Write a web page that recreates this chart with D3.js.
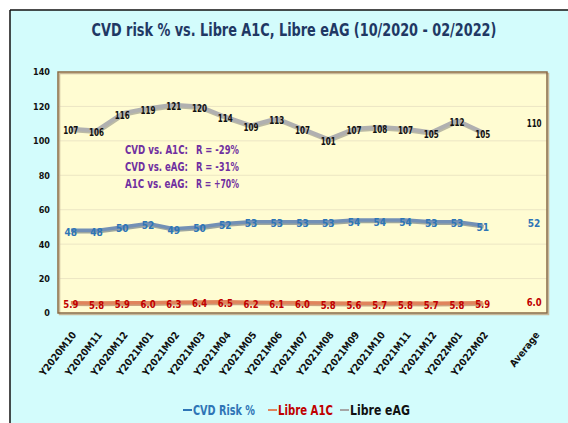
<!DOCTYPE html>
<html><head><meta charset="utf-8">
<script src="https://cdn.jsdelivr.net/npm/d3@7"></script>
<style>
html,body{margin:0;padding:0;background:#fff;}
svg{display:block;}
text{font-family:"Liberation Sans Narrow","DejaVu Sans Condensed","Roboto",sans-serif;font-weight:bold;}
</style></head><body>
<svg id="chart" width="568" height="423"></svg>
<script>
const categories = ["Y2020M10","Y2020M11","Y2020M12","Y2021M01","Y2021M02","Y2021M03","Y2021M04","Y2021M05","Y2021M06","Y2021M07","Y2021M08","Y2021M09","Y2021M10","Y2021M11","Y2021M12","Y2022M01","Y2022M02","","Average"];
const cvdRisk = [48,48,50,52,49,50,52,53,53,53,53,54,54,54,53,53,51];
const libreA1C = [5.9,5.8,5.9,6.0,6.3,6.4,6.5,6.2,6.1,6.0,5.8,5.6,5.7,5.8,5.7,5.8,5.9];
const libreEAG = [107,106,116,119,121,120,114,109,113,107,101,107,108,107,105,112,105];
const averages = {cvd:52, a1c:6.0, eag:110};
const yTicks = [0,20,40,60,80,100,120,140];
const correlations = [["CVD vs. A1C:","R = -29%"],["CVD vs. eAG:","R = -31%"],["A1C vs. eAG:","R = +70%"]];
const seriesNames = ["CVD Risk %","Libre A1C","Libre eAG"];

const svg = d3.select("#chart");

function fitWidth(sel, w){
  sel.each(function(){
    const n = this.getComputedTextLength();
    if(n > w){
      const ax = +this.getAttribute("x"), ay = +this.getAttribute("y");
      const k = w/n;
      d3.select(this).attr("transform",`translate(${ax},${ay}) scale(${k},1) translate(${-ax},${-ay})`);
    }
  });
}

// outer frame
svg.append("rect").attr("x",10).attr("y",10).attr("width",558).attr("height",413).attr("fill","#d3fcfc");
svg.append("line").attr("x1",10).attr("x2",568).attr("y1",10).attr("y2",10).attr("stroke","#111").attr("stroke-width",1.5);
svg.append("line").attr("x1",10).attr("x2",10).attr("y1",10).attr("y2",423).attr("stroke","#111").attr("stroke-width",1.5);

// title
svg.append("text").attr("x",294).attr("y",36).attr("text-anchor","middle")
  .attr("font-size",18).attr("fill","#1f3864")
  .text("CVD risk % vs. Libre A1C, Libre eAG  (10/2020 - 02/2022)")
  .call(fitWidth,405);

const L=58,R=547,T=72,B=313;
const x = d3.scaleBand().domain(categories).range([L,R]).padding(0);
const y = d3.scaleLinear().domain([0,140]).range([B,T]);
const cx = c => x(c)+x.bandwidth()/2;

svg.append("rect").attr("x",L).attr("y",T).attr("width",R-L).attr("height",B-T).attr("fill","#fffcd2");
svg.append("g").selectAll("line").data(yTicks.slice(1,-1)).join("line")
  .attr("x1",L).attr("x2",R).attr("y1",d=>y(d)).attr("y2",d=>y(d))
  .attr("stroke","#ece6c4").attr("stroke-width",1);
svg.append("rect").attr("x",L+1.5).attr("y",T+1.5).attr("width",R-L).attr("height",B-T).attr("fill","none").attr("stroke","#c8b898").attr("stroke-width",1.5);
svg.append("rect").attr("x",L).attr("y",T).attr("width",R-L).attr("height",B-T).attr("fill","none").attr("stroke","#8a6a44").attr("stroke-width",1.5);

// y axis
const yAxis = d3.axisLeft(y).tickValues(yTicks).tickSize(0).tickPadding(8);
const gy = svg.append("g").attr("transform",`translate(${L},0)`).call(yAxis);
gy.select(".domain").remove();
gy.selectAll("text").attr("font-size",9).attr("fill","#111").attr("font-family",null);

// x axis labels
const months = categories.slice(0,17);
const xAxis = d3.axisBottom(x).tickSize(0).tickFormat(d=>d);
const gx = svg.append("g").attr("transform",`translate(0,${B})`).call(xAxis);
gx.select(".domain").remove();
gx.selectAll("text").attr("font-size",10).attr("fill","#111").attr("font-family",null)
  .attr("text-anchor","end").attr("dy",0).attr("y",0)
  .attr("transform","translate(6,22) rotate(-52)")
  .attr("dx",0);

const line = d3.line().x((d,i)=>cx(months[i])).y(d=>y(d));

function drawSeries(vals, stroke, shadow, width, labelColor, fmt){
  svg.append("path").datum(vals).attr("d",line).attr("fill","none").attr("stroke",shadow)
    .attr("stroke-width",width).attr("transform","translate(1,1.5)").attr("opacity",0.5).attr("stroke-linejoin","round");
  svg.append("path").datum(vals).attr("d",line).attr("fill","none").attr("stroke",stroke)
    .attr("stroke-width",width).attr("stroke-linejoin","round");
  svg.append("g").selectAll("text").data(vals).join("text")
    .attr("x",(d,i)=>cx(months[i])).attr("y",d=>y(d)+2).attr("dy","0.35em")
    .attr("text-anchor","middle").attr("font-size",10).attr("fill",labelColor).text(fmt)
    .call(fitWidth,15);
}
drawSeries(libreEAG,"#b0b0b0","#777","4","#111",d=>d);
drawSeries(cvdRisk,"#7390b5","#3a4f6e","3.5","#2e75b6",d=>d);
drawSeries(libreA1C,"#e0845c","#9a4a2a","3.5","#c00000",d=>d.toFixed(1));

// averages
const avgX = cx("Average");
[[averages.eag,"#111",d=>d],[averages.cvd,"#2e75b6",d=>d],[averages.a1c,"#c00000",d=>d.toFixed(1)]].forEach(([v,c,f])=>{
  svg.append("text").attr("x",avgX).attr("y",y(v)).attr("dy","0.35em").attr("text-anchor","middle")
    .attr("font-size",10).attr("fill",c).text(f(v)).call(fitWidth,15);
});

// correlations
correlations.forEach((r,i)=>{
  const yy = 154 + i*17;
  svg.append("text").attr("x",125).attr("y",yy).attr("font-size",12.5).attr("fill","#7030a0").text(r[0]).call(fitWidth,63);
  svg.append("text").attr("x",196).attr("y",yy).attr("font-size",12.5).attr("fill","#7030a0").text(r[1]).call(fitWidth,43);
});

// legend
const legendItems = [
  {name:seriesNames[0], dash:"#2e75b6", color:"#2e75b6", x:183, w:72},
  {name:seriesNames[1], dash:"#e0845c", color:"#c00000", x:268, w:65},
  {name:seriesNames[2], dash:"#a6a6a6", color:"#111", x:340, w:70}
];
legendItems.forEach(it=>{
  svg.append("line").attr("x1",it.x).attr("x2",it.x+9).attr("y1",410).attr("y2",410).attr("stroke",it.dash).attr("stroke-width",2);
  svg.append("text").attr("x",it.x+10).attr("y",415).attr("font-size",14)
    .attr("fill",it.color).text(it.name).call(fitWidth,it.w-10);
});
</script>
</body></html>
